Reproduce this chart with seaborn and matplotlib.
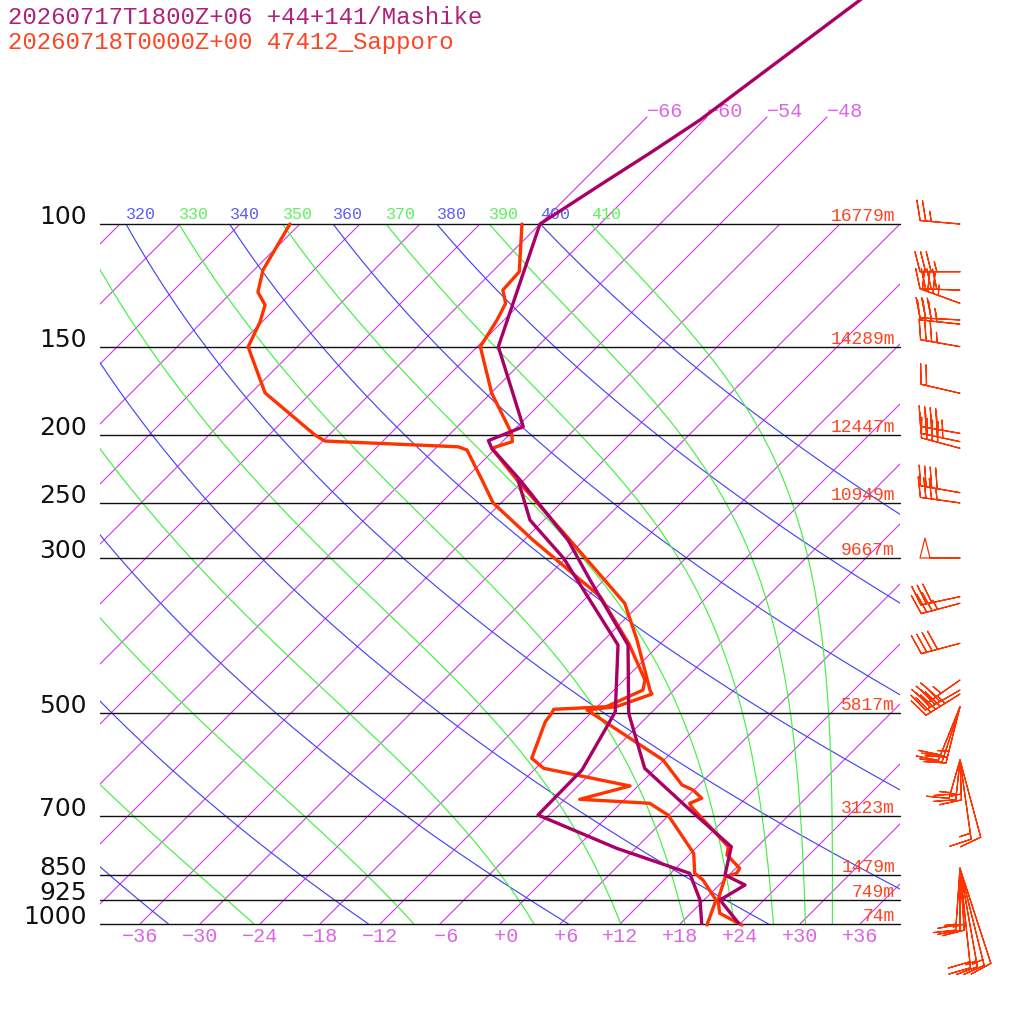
import numpy as np
import pandas as pd
import matplotlib
matplotlib.use("Agg")
import matplotlib.pyplot as plt
import matplotlib.transforms as mtransforms
from matplotlib.patches import Rectangle
import seaborn as sns

sns.set_theme(style="white")
plt.rcParams["font.family"] = ["DejaVu Sans"]
MONO = ["Liberation Mono", "DejaVu Sans Mono"]

# ------------------------------------------------------------------ data
title_fcst = "20260717T1800Z+06 +44+141/Mashike"
title_obs = "20260718T0000Z+00 47412_Sapporo"

# Sapporo observation (hPa, degC)
obs_t_p = [1003.3, 965.4, 924.1, 855.9, 846.4, 832.6, 796.9, 775.5, 679.8, 672.3,
           661.3, 643.5, 633.0, 583.0, 494.6, 489.3, 469.3, 463.2, 392.9, 348.2,
           282.8, 232.1, 209.1, 204.6, 199.1, 174.5, 149.7, 137.1, 129.8, 124.3,
           117.0, 100.0]
obs_t = [24.3, 20.9, 19.4, 17.8, 18.6, 18.4, 15.8, 15.1, 7.4, 6.9,
         7.6, 5.9, 4.3, -0.1, -12.7, -10.1, -7.8, -8.4, -14.7, -19.6,
         -31.4, -42.7, -48.4, -47.0, -47.9, -53.9, -59.7, -60.7, -61.5, -63.1,
         -63.3, -67.8]
obs_td_p = [1003.3, 924.1, 865.3, 846.4, 792.5, 698.7, 672.3, 663.5, 635.1, 599.2,
            579.8, 514.0, 500.0, 493.5, 489.3, 463.2, 448.2, 397.2, 340.7, 282.8,
            250.3, 232.1, 210.3, 208.1, 204.2, 200.2, 174.3, 149.8, 138.0, 130.5,
            125.1, 116.3, 100.0]
obs_td = [20.8, 19.2, 15.9, 14.4, 12.3, 5.9, 2.9, -4.5, -0.8, -11.2,
          -13.4, -15.7, -15.9, -16.1, -11.1, -9.1, -9.9, -15.2, -22.7, -35.1,
          -42.8, -46.2, -50.7, -51.9, -65.8, -67.4, -76.6, -82.9, -84.2, -85.4,
          -87.4, -89.1, -91.0]

# Mashike forecast (hPa, degC)
fc_t_p = [997.7, 924.1, 879.6, 851.1, 775.5, 679.8, 599.2, 500.0, 399.4, 322.5,
          282.8, 232.1, 209.1, 203.9, 194.8, 149.7, 100.0, 88.0, 79.2, 71.0,
          64.3, 55.5, 47.9, 40.0]
fc_t = [23.8, 19.6, 20.6, 17.6, 15.4, 6.9, -1.1, -8.2, -15.1, -25.4,
        -31.6, -42.4, -48.4, -49.5, -47.4, -57.9, -66.0, -63.9, -62.1, -60.4,
        -59.4, -57.9, -56.4, -55.0]
fc_td_p = [997.7, 924.1, 846.4, 779.6, 698.7, 602.6, 528.3, 497.4, 399.4, 300.3,
           264.8, 232.1]
fc_td = [20.1, 17.6, 13.9, 4.1, -7.1, -7.2, -8.9, -9.7, -16.1, -30.2,
         -37.4, -42.6]

# standard levels and geopotential heights (Sapporo)
std_p = [100, 150, 200, 250, 300, 500, 700, 850, 925, 1000]
std_hgt = ["16779m", "14289m", "12447m", "10949m", "9667m", "5817m",
           "3123m", "1479m", "749m", "74m"]

isotherm_ticks = list(range(-36, 37, 6))
isotherm_all = list(range(-108, 37, 6))
isotherm_top = [-66, -60, -54, -48]
theta_dry = list(range(240, 401, 20))
theta_moist = list(range(250, 411, 20))

# Sapporo winds (direction deg, speed kt)
wind_p = [100.0, 117.0, 124.3, 129.8, 137.1, 139.0, 149.7, 174.5, 199.1, 204.6,
          209.1, 242.0, 250.3, 300.0, 340.7, 348.2, 397.2, 448.2, 463.2, 469.3]
wind_dir = [275, 270, 272, 290, 273, 276, 280, 283, 280, 282,
            285, 280, 278, 270, 258, 255, 255, 235, 240, 238]
wind_spd = [25, 35, 40, 35, 35, 35, 35, 20, 45, 45,
            40, 40, 35, 50, 30, 35, 40, 35, 40, 45]
# low-level wind groups drawn from a shared station: (pressure, dirs, speeds)
low_p = [489.3, 583.0, 583.0, 832.6, 832.6]
low_dir = [[194, 198, 202], [196, 186, 178], [172, 165],
           [184, 180, 176], [174, 170, 166, 162]]
low_spd = [[25, 20, 20], [15, 20, 15], [15, 10],
           [15, 20, 15], [20, 15, 15, 10]]
low_staff_px = [58, 40, 80, 62, 100]   # drawing style: staff length (px)

# ------------------------------------------------------------------ geometry
SKEW = 30.4
def skx(t, p):
    return np.asarray(t, float) + SKEW * np.log(1000.0 / np.asarray(p, float))

def px2p(y):
    return 1000.0 * np.exp(-(924.0 - y) / 304.0)

def theta_e(tk, p):
    tc = tk - 273.15
    es = 6.112 * np.exp(17.67 * tc / (tc + 243.5))
    r = 622.0 * es / np.maximum(p - es, 1.0)
    return tk * (1000.0 / p) ** (0.2854 * (1 - 0.00028 * r)) * \
        np.exp((3.376 / tk - 0.00254) * r * (1 + 0.00081 * r))

def moist_T(the, p):
    lo = np.full_like(p, 150.0)
    hi = np.full_like(p, 318.0)
    for _ in range(60):
        mid = 0.5 * (lo + hi)
        f = theta_e(mid, p) > the
        hi = np.where(f, mid, hi)
        lo = np.where(f, lo, mid)
    return 0.5 * (lo + hi) - 273.15

ISO_C = "#cc44e0"
ISO_LBL = "#dc64e6"
DRY_C = "#4646f4"
DRY_LBL = "#5c5cff"
MST_C = "#44f044"
MST_LBL = "#5ef05e"
RED = "#ff3300"
RED_TXT = "#ff4422"
MAG = "#aa0066"
MAG_TXT = "#b0207a"

fig = plt.figure(figsize=(10.24, 10.24), dpi=100)
ax = fig.add_axes([0, 0, 1, 1])
ax.set_yscale("log")
ax.set_xlim(-50, 52.4)
ax.set_ylim(px2p(1024), px2p(0))
ax.axis("off")

box = Rectangle((-40, 100), 80, 900, transform=ax.transData, fill=False)

pl = np.geomspace(1000, 100, 300)

# isotherms
for t in isotherm_all:
    ln, = ax.plot(skx(t, pl), pl, color=ISO_C, lw=0.85, zorder=2)
    ln.set_clip_path(box)
ptop = np.geomspace(100, px2p(117), 20)
for t in isotherm_top:
    ax.plot(skx(t, ptop), ptop, color=ISO_C, lw=0.85, zorder=2)
    ax.text(skx(t, ptop[-1]), ptop[-1], "\u2212%d" % -t, color=ISO_LBL,
            family=MONO, fontsize=14.5, ha="left", va="baseline")

# dry adiabats
up5 = mtransforms.offset_copy(ax.transData, fig=fig, x=0, y=5, units="dots")
for th in theta_dry:
    tt = th * (pl / 1000.0) ** 0.2857 - 273.15
    ln, = ax.plot(skx(tt, pl), pl, color=DRY_C, lw=0.85, zorder=2)
    ln.set_clip_path(box)
    x0 = float(skx(tt[-1], 100))
    if x0 >= -40:
        ax.text(x0, 100, str(th), color=DRY_LBL, family=MONO, fontsize=12,
                ha="left", va="baseline", transform=up5)

# moist adiabats
for th in theta_moist:
    tt = moist_T(th, pl)
    ln, = ax.plot(skx(tt, pl), pl, color=MST_C, lw=0.85, zorder=2)
    ln.set_clip_path(box)
    x0 = float(skx(tt[-1], 100))
    if x0 >= -40:
        ax.text(x0, 100, str(th), color=MST_LBL, family=MONO, fontsize=12,
                ha="left", va="baseline", transform=up5)

# isobars + labels
up3 = mtransforms.offset_copy(ax.transData, fig=fig, x=0, y=3, units="dots")
for p, h in zip(std_p, std_hgt):
    ax.plot([-40, 40], [p, p], color="#111111", lw=1.0, zorder=3)
    ax.text(-41.3, p, str(p), fontsize=18, ha="right", va="baseline",
            color="#111111", family=["DejaVu Sans"])
    ax.text(39.5, p, h, color=RED_TXT, family=MONO, fontsize=13,
            ha="right", va="baseline", transform=up3)

# temperature labels at bottom
for t in isotherm_ticks:
    s = ("%+3d" % t).replace("-", "\u2212")
    ax.text(t, px2p(937), s, color=ISO_LBL, family=MONO, fontsize=14.5,
            ha="center", va="center")

# profiles via seaborn
def prof(p, t, color):
    df = pd.DataFrame({"x": skx(t, p), "p": p})
    sns.lineplot(data=df, x="x", y="p", sort=False, estimator=None,
                 color=color, lw=2.4, ax=ax, zorder=5)

prof(obs_td_p, obs_td, RED)
prof(obs_t_p, obs_t, RED)
prof(fc_td_p, fc_td, MAG)
prof(fc_t_p, fc_t, MAG)
ax.set_xlim(-50, 52.4)
ax.set_ylim(px2p(1024), px2p(0))
ax.axis("off")

# wind barbs
def uv(d, s):
    d = np.deg2rad(np.asarray(d, float))
    s = np.asarray(s, float)
    return -s * np.sin(d), -s * np.cos(d)

def barb_len(staff_px):
    # matplotlib staff length in pixels ~ length**2 * dpi / 144
    return np.sqrt(staff_px * 144.0 / fig.dpi)

XB = 46.0
u, v = uv(wind_dir, wind_spd)
ax.barbs(np.full(len(wind_p), XB), wind_p, u, v, length=barb_len(40),
         pivot="tip", barbcolor=RED, flagcolor="none", linewidth=0.9,
         sizes=dict(height=0.5, spacing=0.14, width=0.25), zorder=6)
for p, dd, ss, spx in zip(low_p, low_dir, low_spd, low_staff_px):
    u, v = uv(dd, ss)
    ax.barbs(np.full(len(dd), XB), np.full(len(dd), p), u, v,
             length=barb_len(spx), pivot="tip", barbcolor=RED,
             flagcolor="none", linewidth=0.9,
             sizes=dict(height=22.0 / spx, spacing=6.0 / spx, width=8.0 / spx),
             zorder=6)

fig.text(8 / 1024, 1 - 18 / 1024, title_fcst, color=MAG_TXT, family=MONO,
         fontsize=17.3, ha="left", va="center")
fig.text(8 / 1024, 1 - 42 / 1024, title_obs, color=RED_TXT, family=MONO,
         fontsize=17.3, ha="left", va="center")

fig.savefig("out.png", dpi=100, facecolor="white")
